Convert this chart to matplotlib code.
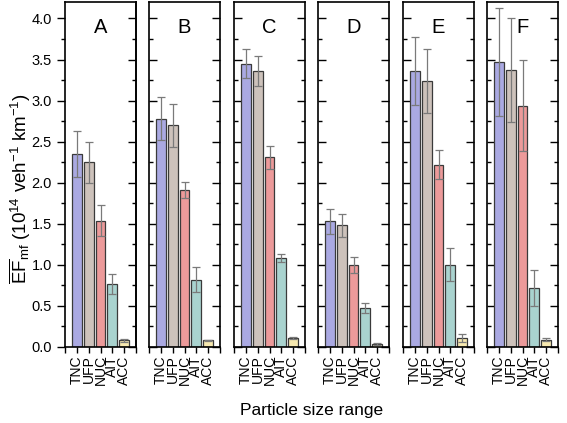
import matplotlib
matplotlib.use("Agg")
import matplotlib.pyplot as plt
from matplotlib.ticker import MultipleLocator, FormatStrFormatter, NullFormatter

plt.rcParams['font.family'] = ['Liberation Sans', 'DejaVu Sans']
plt.rcParams['mathtext.fontset'] = 'custom'
plt.rcParams['mathtext.rm'] = 'Liberation Sans'
plt.rcParams['mathtext.it'] = 'Liberation Sans:italic'

categories = ["TNC", "UFP", "NUC", "AIT", "ACC"]
panels = ["A", "B", "C", "D", "E", "F"]
colors = ["#aaa9e2", "#cdc2bb", "#ec9a9a", "#a9d3cf", "#f7e9b0"]

values_A = [2.35, 2.25, 1.54, 0.77, 0.08]
errors_A = [0.28, 0.25, 0.19, 0.12, 0.02]
values_B = [2.78, 2.70, 1.91, 0.82, 0.08]
errors_B = [0.26, 0.26, 0.10, 0.15, 0.01]
values_C = [3.45, 3.36, 2.31, 1.08, 0.11]
errors_C = [0.18, 0.18, 0.14, 0.05, 0.01]
values_D = [1.53, 1.48, 1.00, 0.47, 0.04]
errors_D = [0.15, 0.14, 0.10, 0.06, 0.01]
values_E = [3.36, 3.24, 2.22, 1.00, 0.11]
errors_E = [0.41, 0.39, 0.18, 0.20, 0.05]
values_F = [3.47, 3.37, 2.94, 0.72, 0.09]
errors_F = [0.66, 0.63, 0.55, 0.22, 0.02]

all_values = [values_A, values_B, values_C, values_D, values_E, values_F]
all_errors = [errors_A, errors_B, errors_C, errors_D, errors_E, errors_F]

W, H = 567, 423
fig = plt.figure(figsize=(W / 100, H / 100), dpi=100)

lefts = [65, 149, 234, 318, 403, 487]
pw = 71
top, bottom = 2, 347

positions = [1, 2, 3, 4, 5]
for i, (lbl, vals, errs) in enumerate(zip(panels, all_values, all_errors)):
    ax = fig.add_axes([lefts[i] / W, 1 - bottom / H, pw / W, (bottom - top) / H])
    ax.bar(positions, vals, width=0.82, color=colors, edgecolor="#3a3a3a", linewidth=0.9, zorder=2)
    ax.errorbar(positions, vals, yerr=errs, fmt="none", ecolor="#7a7a7a", elinewidth=0.9,
                capsize=3, capthick=0.9, zorder=3)
    ax.set_xlim(0, 6)
    ax.set_ylim(0, 4.2)
    ax.set_xticks([0, 1, 2, 3, 4, 5, 6])
    ax.set_xticklabels([""] + categories + [""], rotation=90, fontsize=10)
    ax.tick_params(axis="x", direction="out", length=4, width=1, pad=2)
    ax.yaxis.set_major_locator(MultipleLocator(0.5))
    ax.yaxis.set_minor_locator(MultipleLocator(0.25))
    if i == 0:
        ax.yaxis.set_major_formatter(FormatStrFormatter("%.1f"))
        ax.tick_params(axis="y", which="major", direction="out", length=6, width=1, labelsize=10.5)
        ax.tick_params(axis="y", which="minor", direction="out", length=3, width=1)
        sec = ax.secondary_yaxis("right")
        sec.yaxis.set_major_locator(MultipleLocator(0.5))
        sec.yaxis.set_minor_locator(MultipleLocator(0.25))
        sec.yaxis.set_major_formatter(NullFormatter())
        sec.tick_params(axis="y", which="major", direction="in", length=6, width=1)
        sec.tick_params(axis="y", which="minor", direction="in", length=3, width=1)
        sec.spines["right"].set_linewidth(1.2)
    else:
        ax.tick_params(axis="y", which="major", direction="in", length=6, width=1,
                       left=True, right=True, labelleft=False)
        ax.tick_params(axis="y", which="minor", direction="in", length=3, width=1,
                       left=True, right=True)
    for s in ax.spines.values():
        s.set_linewidth(1.2)
    ax.text(0.5, 0.955, lbl, transform=ax.transAxes, ha="center", va="top", fontsize=14.5)

fig.text(20 / W, 1 - 189 / H,
         r"$\overline{\mathrm{EF}}_{\mathrm{mf}}$ (10$^{14}$ veh$^{-1}$ km$^{-1}$)",
         rotation=90, ha="center", va="center", fontsize=13.5)
fig.text(312 / W, 1 - 410 / H, "Particle size range", ha="center", va="center", fontsize=12.5)

fig.savefig("out.png", dpi=100)
